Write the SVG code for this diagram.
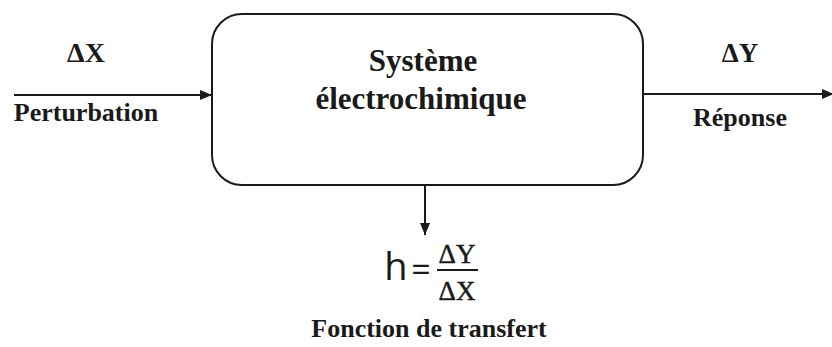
<svg xmlns="http://www.w3.org/2000/svg" width="832" height="347" viewBox="0 0 832 347">
<style>
.t{font-family:"Liberation Serif","Times New Roman",serif;font-weight:bold;fill:#1a1a1a;text-anchor:middle}
.f{font-family:"Liberation Serif","Times New Roman",serif;fill:#1a1a1a;text-anchor:middle;stroke:#1a1a1a;stroke-width:0.5}
.ln{stroke:#1a1a1a;stroke-width:2;fill:none}
</style>
<defs>
<marker id="ah" viewBox="0 0 12 10" refX="12" refY="5" markerWidth="12" markerHeight="10" markerUnits="userSpaceOnUse" orient="auto">
<path d="M0,0 L12,5 L0,10 Z" fill="#1a1a1a"/>
</marker>
</defs>
<rect width="832" height="347" fill="#fff"/>
<g id="connectors">
<line class="ln" x1="14" y1="95" x2="212" y2="95" marker-end="url(#ah)"/>
<line class="ln" x1="643" y1="94" x2="834" y2="94" marker-end="url(#ah)"/>
<line class="ln" x1="425" y1="186" x2="425" y2="235" marker-end="url(#ah)"/>
</g>
<g id="input">
<text class="t" x="86" y="62" font-size="28">ΔX</text>
<text class="t" x="86" y="121" font-size="26">Perturbation</text>
</g>
<g id="systeme">
<rect class="ln" x="212" y="14" width="431" height="171" rx="30" ry="30"/>
<text class="t" x="423" y="71" font-size="31">Système</text>
<text class="t" x="421" y="109" font-size="31">électrochimique</text>
</g>
<g id="output">
<text class="t" x="740" y="62" font-size="27">ΔY</text>
<text class="t" x="740" y="126" font-size="26">Réponse</text>
</g>
<g id="transfert">
<text x="396" y="280" font-family="'Open Sans','Liberation Sans',sans-serif" font-size="38" fill="#1a1a1a" text-anchor="middle">h</text>
<text x="421" y="282" font-family="'Open Sans','Liberation Sans',sans-serif" font-size="34" fill="#1a1a1a" text-anchor="middle">=</text>
<text class="f" x="457" y="263" font-size="27">ΔY</text>
<line class="ln" x1="437" y1="270" x2="478" y2="270" stroke-width="1.5"/>
<text class="f" x="457" y="300" font-size="27">ΔX</text>
<text class="t" x="429" y="337" font-size="26">Fonction de transfert</text>
</g>
</svg>
